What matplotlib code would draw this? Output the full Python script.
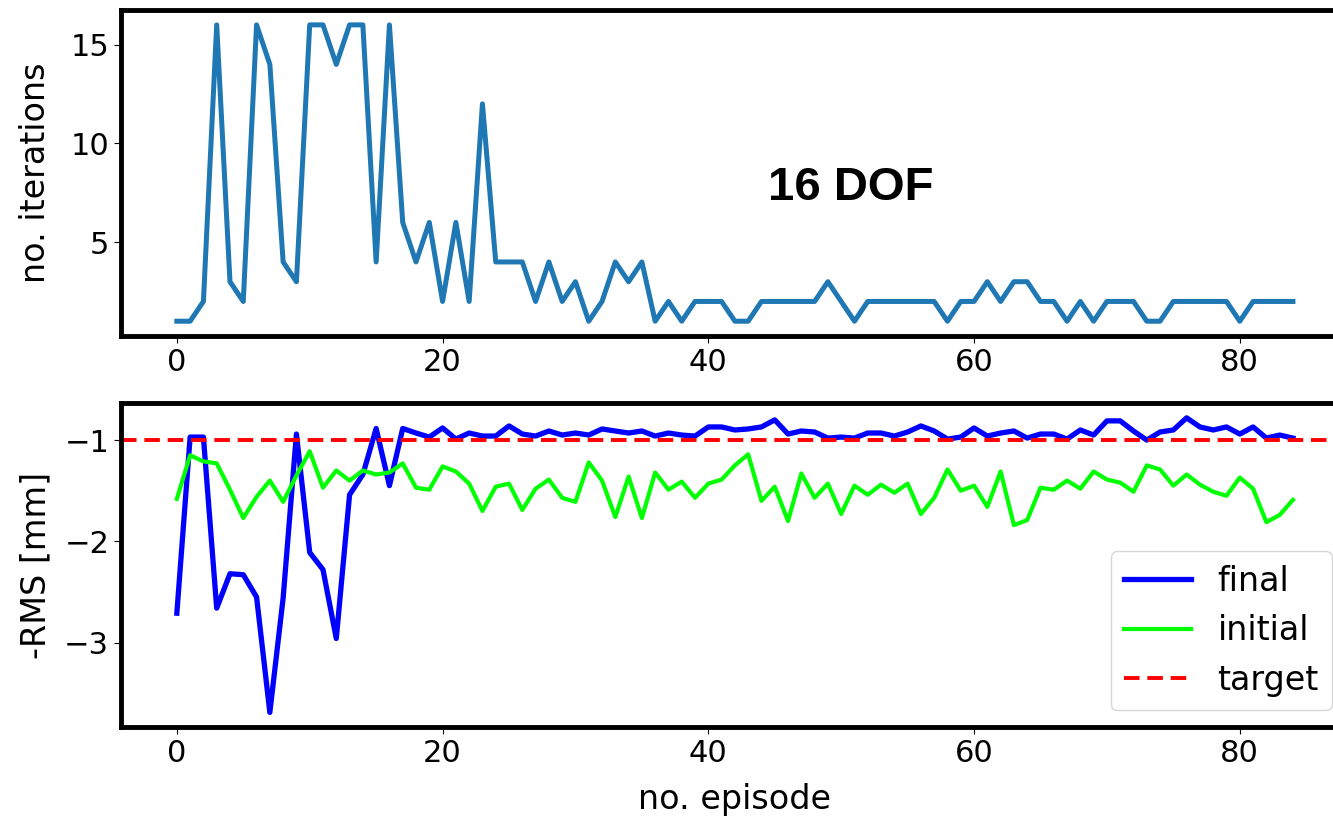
import numpy as np
import matplotlib
matplotlib.use('Agg')
import matplotlib.pyplot as plt

# number of iterations needed per episode
iterations = [1, 1, 2, 16, 3, 2, 16, 14, 4, 3,
              16, 16, 14, 16, 16, 4, 16, 6, 4, 6,
              2, 6, 2, 12, 4, 4, 4, 2, 4, 2,
              3, 1, 2, 4, 3, 4, 1, 2, 1, 2,
              2, 2, 1, 1, 2, 2, 2, 2, 2, 3,
              2, 1, 2, 2, 2, 2, 2, 2, 1, 2,
              2, 3, 2, 3, 3, 2, 2, 1, 2, 1,
              2, 2, 2, 1, 1, 2, 2, 2, 2, 2,
              1, 2, 2, 2, 2]

# -RMS after / before correction [mm]
final_rms = [-2.71, -0.97, -0.97, -2.66, -2.32, -2.33, -2.55, -3.69, -2.56, -0.94,
             -2.11, -2.28, -2.96, -1.54, -1.34, -0.885, -1.45, -0.885, -0.93, -0.97,
             -0.88, -0.99, -0.93, -0.96, -0.96, -0.86, -0.94, -0.96, -0.91, -0.95,
             -0.93, -0.95, -0.89, -0.91, -0.93, -0.91, -0.96, -0.93, -0.95, -0.96,
             -0.87, -0.87, -0.90, -0.89, -0.87, -0.80, -0.94, -0.91, -0.92, -0.98,
             -0.97, -0.98, -0.93, -0.93, -0.96, -0.92, -0.86, -0.91, -0.99, -0.97,
             -0.88, -0.96, -0.93, -0.91, -0.98, -0.94, -0.94, -0.99, -0.90, -0.95,
             -0.81, -0.81, -0.91, -1.00, -0.92, -0.90, -0.78, -0.87, -0.90, -0.87,
             -0.94, -0.87, -0.98, -0.95, -0.98]

initial_rms = [-1.58, -1.15, -1.21, -1.23, -1.49, -1.77, -1.56, -1.40, -1.61, -1.35,
               -1.11, -1.47, -1.30, -1.40, -1.30, -1.34, -1.32, -1.23, -1.47, -1.49,
               -1.26, -1.31, -1.43, -1.70, -1.46, -1.43, -1.69, -1.48, -1.39, -1.57,
               -1.61, -1.22, -1.40, -1.76, -1.36, -1.77, -1.32, -1.49, -1.41, -1.57,
               -1.43, -1.39, -1.25, -1.14, -1.60, -1.46, -1.80, -1.33, -1.57, -1.43,
               -1.73, -1.45, -1.54, -1.44, -1.52, -1.43, -1.73, -1.57, -1.29, -1.50,
               -1.45, -1.66, -1.31, -1.84, -1.79, -1.47, -1.49, -1.40, -1.48, -1.31,
               -1.39, -1.42, -1.51, -1.25, -1.29, -1.45, -1.34, -1.44, -1.51, -1.55,
               -1.37, -1.48, -1.81, -1.74, -1.59]

target = -1
episodes = np.arange(len(iterations))

plt.rcParams['font.size'] = 24
plt.rcParams['xtick.labelsize'] = 22
plt.rcParams['ytick.labelsize'] = 22
plt.rcParams['axes.linewidth'] = 3.5
plt.rcParams['xtick.major.size'] = 5
plt.rcParams['ytick.major.size'] = 5

fig = plt.figure(figsize=(13.33, 8.17), dpi=100)
ax1 = fig.add_axes([0.0908, 0.5887, 0.921, 0.399])
ax2 = fig.add_axes([0.0908, 0.110, 0.921, 0.3966])

ax1.plot(episodes, iterations, color='#1f77b4', lw=3.6)
ax1.set_ylabel('no. iterations')
ax1.set_yticks([5, 10, 15])
ax1.text(50.7, 7.75, '16 DOF', fontsize=34, fontweight='bold',
         family='Liberation Sans', ha='center', va='center')

ax2.plot(episodes, final_rms, color='b', lw=3.8, label='final')
ax2.plot(episodes, initial_rms, color='lime', lw=3, label='initial')
ax2.axhline(target, color='r', ls='--', lw=2.8, dashes=(4, 2), label='target')
ax2.set_ylabel('-RMS [mm]')
ax2.set_xlabel('no. episode', labelpad=11)
ax2.set_yticks([-1, -2, -3])
ax2.legend(loc='lower right')

for ax in (ax1, ax2):
    ax.set_xticks([0, 20, 40, 60, 80])

ax1.yaxis.set_label_coords(-0.056, 0.5)
ax2.yaxis.set_label_coords(-0.056, 0.5)

plt.savefig('out.png', dpi=100)
